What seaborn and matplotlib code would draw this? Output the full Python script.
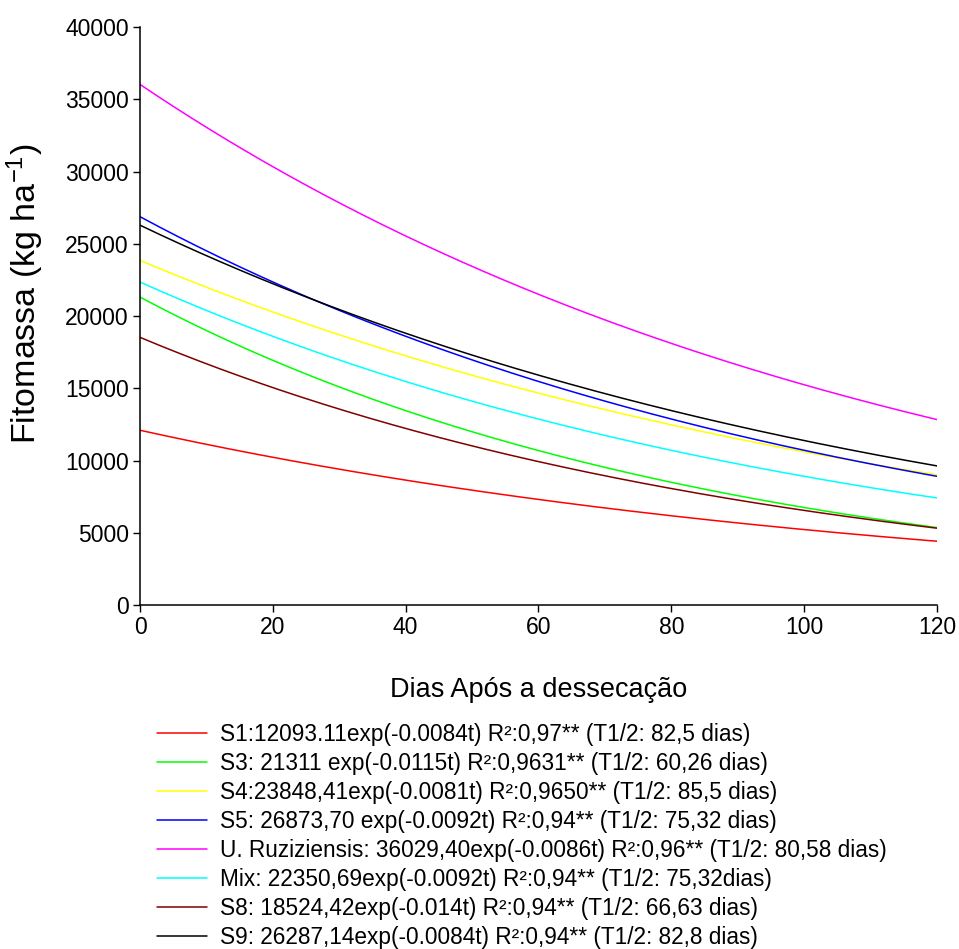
import numpy as np
import pandas as pd
import matplotlib
matplotlib.use("Agg")
import matplotlib.pyplot as plt
import seaborn as sns

# Fitted decay models: initial biomass (kg/ha) and half-life (days)
series = ["S1", "S3", "S4", "S5", "U. Ruziziensis", "Mix", "S8", "S9"]
initial_mass = [12093.11, 21311.0, 23848.41, 26873.70, 36029.40, 22350.69, 18524.42, 26287.14]
half_life = [82.5, 60.26, 85.5, 75.32, 80.58, 75.32, 66.63, 82.8]
legend_labels = [
    "S1:12093.11exp(-0.0084t) R²:0,97** (T1/2: 82,5 dias)",
    "S3: 21311 exp(-0.0115t) R²:0,9631** (T1/2: 60,26 dias)",
    "S4:23848,41exp(-0.0081t) R²:0,9650** (T1/2: 85,5 dias)",
    "S5: 26873,70 exp(-0.0092t) R²:0,94** (T1/2: 75,32 dias)",
    "U. Ruziziensis: 36029,40exp(-0.0086t) R²:0,96** (T1/2: 80,58 dias)",
    "Mix: 22350,69exp(-0.0092t) R²:0,94** (T1/2: 75,32dias)",
    "S8: 18524,42exp(-0.014t) R²:0,94** (T1/2: 66,63 dias)",
    "S9: 26287,14exp(-0.0084t) R²:0,94** (T1/2: 82,8 dias)",
]
colors = ["#FF0000", "#00FF00", "#FFFF00", "#0000FF", "#FF00FF", "#00FFFF", "#800000", "#000000"]
x_ticks = [0, 20, 40, 60, 80, 100, 120]
y_ticks = [0, 5000, 10000, 15000, 20000, 25000, 30000, 35000, 40000]

# Evaluate each model on the day grid
days = np.linspace(0, 120, 241)
frames = []
for lab, a0, t_half in zip(legend_labels, initial_mass, half_life):
    k = np.log(2) / t_half
    frames.append(pd.DataFrame({"dias": days, "massa": a0 * np.exp(-k * days), "serie": lab}))
df = pd.concat(frames, ignore_index=True)

sns.set_theme(style="ticks")
plt.rcParams["font.family"] = ["Liberation Sans", "DejaVu Sans"]
plt.rcParams["text.color"] = "black"
plt.rcParams["axes.labelcolor"] = "black"
plt.rcParams["xtick.color"] = "black"
plt.rcParams["ytick.color"] = "black"
plt.rcParams["mathtext.fontset"] = "custom"
plt.rcParams["mathtext.rm"] = "Liberation Sans"
plt.rcParams["mathtext.it"] = "Liberation Sans"

fig = plt.figure(figsize=(9.59, 9.49), dpi=100)
ax = fig.add_axes([0.146, 0.3625, 0.831, 0.609])

sns.lineplot(data=df, x="dias", y="massa", hue="serie", hue_order=legend_labels,
             palette=dict(zip(legend_labels, colors)), linewidth=1.1, ax=ax, legend=True)

ax.set_xlim(0, 120)
ax.set_ylim(0, 40000)
ax.set_xticks(x_ticks)
ax.set_yticks(y_ticks)
ax.tick_params(axis="both", direction="out", length=5, width=1.0, color="black",
               labelsize=16.5, pad=3, labelcolor="black")
for side in ["top", "right"]:
    ax.spines[side].set_visible(False)
for side in ["left", "bottom"]:
    ax.spines[side].set_linewidth(1.1)
    ax.spines[side].set_color("black")

ax.set_xlabel("Dias Após a dessecação", fontsize=19.5, labelpad=27, color="black")
ax.set_ylabel(r"Fitomassa (kg ha$^{\mathregular{-1}}$)", fontsize=24.5, color="black",
              va="center", ha="center")
ax.yaxis.set_label_coords(-0.1440, 0.538)

handles, labels = ax.get_legend_handles_labels()
ax.legend(handles, labels, loc="upper left", bbox_transform=fig.transFigure,
          bbox_to_anchor=(157 / 959, 1 - 723 / 949), frameon=False, fontsize=16.3,
          handlelength=2.2, handletextpad=0.57, labelspacing=0.262, borderpad=0,
          borderaxespad=0)

fig.savefig("out.png", dpi=100, facecolor="white")
